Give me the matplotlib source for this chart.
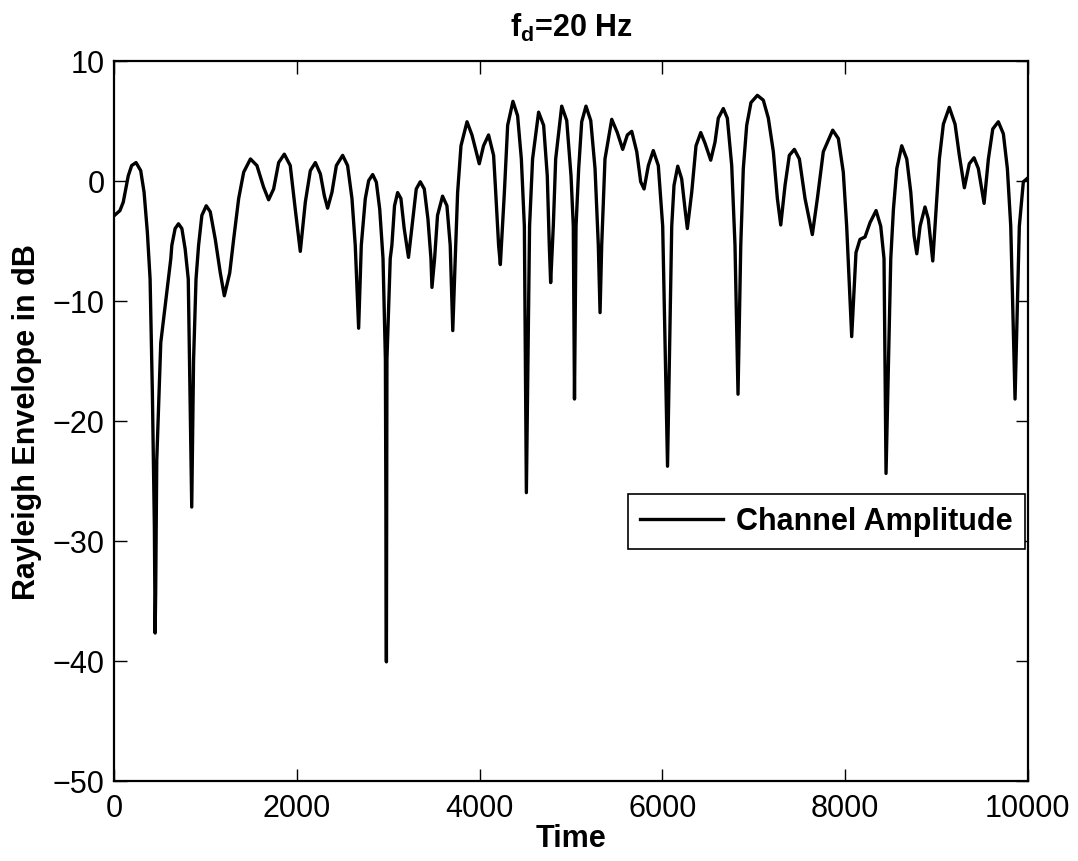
import matplotlib
matplotlib.use('Agg')
import matplotlib.pyplot as plt
import numpy as np

plt.rcParams['font.family'] = ['Liberation Sans', 'DejaVu Sans']
plt.rcParams['mathtext.fontset'] = 'custom'
plt.rcParams['mathtext.rm'] = 'Liberation Sans:bold'
plt.rcParams['mathtext.bf'] = 'Liberation Sans:bold'
plt.rcParams['mathtext.it'] = 'Liberation Sans:bold'

# channel envelope (time, dB)
tiempo = [0, 60, 96, 151, 188, 236, 287, 324, 360, 390, 415, 437, 445, 451, 463, 507,
          591, 617, 628, 664, 701, 738, 774, 808, 822, 846, 866, 893, 921, 957, 1005,
          1049, 1104, 1159, 1203, 1262, 1305, 1360, 1415, 1489, 1560, 1633, 1688, 1743,
          1798, 1860, 1925, 1980, 2035, 2090, 2145, 2200, 2255, 2298, 2334, 2382, 2430,
          2499, 2553, 2601, 2637, 2674, 2703, 2747, 2784, 2828, 2868, 2905, 2941, 2967,
          2978, 2984, 3020, 3038, 3067, 3101, 3137, 3173, 3220, 3268, 3305, 3349, 3393,
          3433, 3466, 3477, 3506, 3538, 3593, 3641, 3677, 3705, 3732, 3758, 3795, 3861,
          3915, 3995, 4042, 4097, 4152, 4171, 4207, 4226, 4270, 4306, 4364, 4415, 4456,
          4489, 4511, 4546, 4579, 4645, 4700, 4740, 4762, 4777, 4806, 4832, 4898, 4953,
          5000, 5025, 5038, 5055, 5084, 5117, 5164, 5216, 5263, 5299, 5318, 5336, 5372,
          5446, 5507, 5566, 5617, 5665, 5720, 5763, 5800, 5847, 5901, 5956, 6004, 6057,
          6103, 6128, 6169, 6212, 6249, 6274, 6322, 6369, 6421, 6468, 6530, 6577, 6613,
          6668, 6712, 6760, 6796, 6829, 6859, 6887, 6924, 6971, 7041, 7106, 7161, 7216,
          7260, 7297, 7344, 7391, 7446, 7501, 7563, 7643, 7698, 7763, 7866, 7928, 7982,
          8019, 8074, 8121, 8165, 8220, 8275, 8341, 8392, 8428, 8450, 8502, 8531, 8568,
          8622, 8677, 8721, 8757, 8787, 8823, 8877, 8913, 8962, 8998, 9034, 9078, 9143,
          9206, 9253, 9308, 9362, 9414, 9461, 9524, 9571, 9619, 9680, 9735, 9779, 9816,
          9863, 9910, 9954, 10000]
amplitud_db = [-2.9, -2.5, -1.8, 0.4, 1.25, 1.5, 0.83, -0.97, -4.3, -8.2, -17.7, -28.9, -37.7,
               -34.4, -23.3, -13.5, -8.2, -6.5, -5.4, -4.0, -3.6, -4.0, -5.7, -8.2, -15.0,
               -27.2, -15.0, -8.2, -5.4, -2.9, -2.1, -2.6, -4.9, -7.7, -9.6, -7.7, -4.9,
               -1.5, 0.7, 1.8, 1.25, -0.55, -1.6, -0.7, 1.5, 2.2, 1.25, -2.4, -5.9, -1.8,
               0.83, 1.5, 0.55, -1.25, -2.3, -0.97, 1.25, 2.1, 1.25, -1.5, -5.4, -12.3,
               -5.4, -1.5, 0.0, 0.5, -0.14, -2.4, -6.5, -14.9, -40.1, -14.9, -6.5, -5.4,
               -2.1, -1.0, -1.5, -4.0, -6.4, -3.2, -0.7, -0.1, -0.7, -3.2, -6.5, -8.9,
               -6.5, -2.9, -1.3, -2.1, -5.4, -12.5, -6.5, -1.0, 2.9, 4.9, 3.8, 1.4, 2.9,
               3.8, 2.1, -0.4, -5.4, -7.0, -1.0, 4.6, 6.6, 5.4, 1.8, -3.8, -26.0, -3.8,
               1.8, 5.7, 4.6, 0.4, -5.4, -8.5, -3.8, 1.8, 6.2, 5.0, 0.4, -3.8, -18.2,
               -3.8, 1.0, 4.9, 6.2, 5.0, 1.0, -5.4, -11.0, -5.4, 1.8, 5.1, 4.0, 2.6, 3.8,
               4.1, 2.4, -0.1, -0.7, 1.25, 2.5, 1.25, -3.8, -23.8, -3.8, -0.4, 1.2, 0.14,
               -2.4, -4.0, -0.97, 2.9, 4.0, 3.1, 1.7, 3.2, 5.2, 6.0, 5.2, 1.25, -5.4,
               -17.8, -5.4, 1.0, 4.6, 6.5, 7.1, 6.7, 5.2, 2.4, -1.5, -3.7, -0.4, 2.1,
               2.6, 1.8, -1.5, -4.5, -1.5, 2.4, 4.2, 3.5, 0.7, -3.8, -13.0, -6.0, -4.9,
               -4.7, -3.5, -2.5, -3.8, -6.5, -24.4, -6.5, -2.4, 1.0, 2.9, 1.8, -0.97,
               -4.6, -6.1, -3.8, -2.2, -3.2, -6.7, -2.4, 1.8, 4.7, 6.1, 4.7, 2.1, -0.6,
               1.4, 1.9, 1.0, -1.9, 1.8, 4.3, 4.9, 3.9, 1.0, -3.8, -18.2, -3.8, -0.1, 0.2]

fig = plt.figure(figsize=(10.78, 8.62), dpi=100)
ax = fig.add_axes([0.1062, 0.0932, 0.847, 0.8354])

ax.plot(tiempo, amplitud_db, color='black', linewidth=2.4, label='Channel Amplitude',
        solid_joinstyle='round')

ax.set_xlim(0, 10000)
ax.set_ylim(-50, 10)
ax.set_xticks([0, 2000, 4000, 6000, 8000, 10000])
ax.set_yticks([-50, -40, -30, -20, -10, 0, 10])
ax.set_yticklabels(['\u221250', '\u221240', '\u221230', '\u221220', '\u221210', '0', '10'])
ax.tick_params(direction='in', length=9, width=1, labelsize=22, top=True, right=True)
ax.tick_params(axis='x', pad=9)
ax.tick_params(axis='y', pad=7)
for s in ax.spines.values():
    s.set_linewidth(1.6)

ax.set_xlabel('Time', fontsize=22, fontweight='bold', labelpad=0)
ax.set_ylabel('Rayleigh Envelope in dB', fontsize=22, fontweight='bold', labelpad=8)
ax.set_title(r'$\mathbf{f_d}$=20 Hz', fontsize=22, fontweight='bold', pad=18)

leg = ax.legend(loc='upper right', bbox_to_anchor=(0.9975, 0.398),
                prop={'weight': 'bold', 'size': 22}, fancybox=False, framealpha=1,
                edgecolor='black', handlelength=2.7, borderpad=0.4, handletextpad=0.45,
                borderaxespad=0)
leg.get_frame().set_linewidth(1.2)

plt.savefig('out.png', dpi=100)
plt.close()
